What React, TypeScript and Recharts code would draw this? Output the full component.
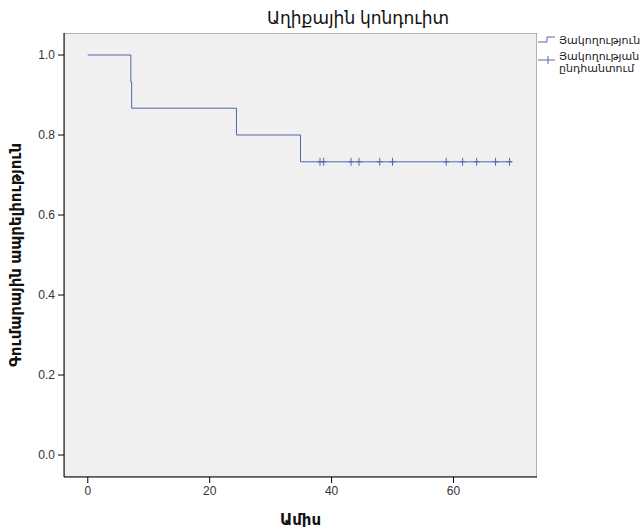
import React from 'react';
import {
  ComposedChart,
  Line,
  Scatter,
  XAxis,
  YAxis,
  ReferenceArea,
} from 'recharts';

// Kaplan-Meier step curve
const stepTimes = [0, 7.07, 7.2, 24.4, 34.9, 69.6];
const stepSurvival = [1.0, 0.933, 0.867, 0.8, 0.733, 0.733];
// censored observations
const censorTimes = [38.1, 38.7, 43.2, 44.5, 47.9, 50.0, 58.8, 61.5, 63.8, 66.9, 69.2];
const censorSurvival = 0.733;

const xTicks = [0, 20, 40, 60];
const yTicks = [0, 0.2, 0.4, 0.6, 0.8, 1.0];

const title = 'Աղիքային կոնդուիտ';
const xLabel = 'Ամիս';
const yLabel = 'Գումարային ապրելիություն';
const legendNames = ['Յակողություն', 'Յակողության', 'ընդհանտում'];

const LINE = '#5266b4';
const FONT = 'Arial, "Liberation Sans", "DejaVu Sans", sans-serif';

const curve = stepTimes.map((t, i) => ({ t, s: stepSurvival[i] }));
const censored = censorTimes.map((t) => ({ t, s: censorSurvival }));

const CensorMark = (props: any) => {
  const { cx, cy } = props;
  return (
    <g>
      <line x1={cx} y1={cy - 4} x2={cx} y2={cy + 4} stroke={LINE} strokeWidth={1} />
      <line x1={cx - 3} y1={cy} x2={cx + 3} y2={cy} stroke={LINE} strokeWidth={1} />
    </g>
  );
};

function LegendBox() {
  return (
    <svg width={103} height={50} style={{ position: 'absolute', left: 538, top: 29 }}>
      <polyline points="0,13 9,13 9,8 17,8" fill="none" stroke={LINE} strokeWidth={1} />
      <line x1={0} y1={31} x2={17} y2={31} stroke={LINE} strokeWidth={1} />
      <line x1={10} y1={27} x2={10} y2={35} stroke={LINE} strokeWidth={1} />
      <text x={21} y={15} fontSize={11} fill="#222" fontFamily={FONT}>
        {legendNames[0]}
      </text>
      <text x={21} y={31} fontSize={11} fill="#222" fontFamily={FONT}>
        {legendNames[1]}
      </text>
      <text x={21} y={43} fontSize={11} fill="#222" fontFamily={FONT}>
        {legendNames[2]}
      </text>
    </svg>
  );
}

export default function App() {
  return (
    <div style={{ position: 'absolute', left: 0, top: 0, width: 641, height: 527, background: '#fff' }}>
      <ComposedChart
        width={641}
        height={527}
        margin={{ top: 33, right: 104, bottom: 0, left: 0 }}
        style={{ fontFamily: FONT }}
      >
        <XAxis
          type="number"
          dataKey="t"
          domain={[-3.9, 73.7]}
          ticks={xTicks}
          allowDataOverflow
          height={50}
          tickSize={6}
          tickMargin={3}
          tick={{ fill: '#333', fontSize: 12 }}
          axisLine={{ stroke: '#000' }}
          tickLine={{ stroke: '#000' }}
          label={{ value: xLabel, position: 'insideBottom', offset: 2, fill: '#111', fontSize: 15, fontWeight: 'bold' }}
        />
        <YAxis
          type="number"
          dataKey="s"
          domain={[-0.055, 1.055]}
          ticks={yTicks}
          allowDataOverflow
          width={64}
          tickSize={6}
          tickMargin={3}
          tickFormatter={(v: number) => v.toFixed(1)}
          tick={{ fill: '#333', fontSize: 12 }}
          axisLine={{ stroke: '#000' }}
          tickLine={{ stroke: '#000' }}
          label={{ value: yLabel, angle: -90, position: 'insideLeft', offset: 16, fill: '#111', fontSize: 15, fontWeight: 'bold', style: { textAnchor: 'middle' } }}
        />
        <ReferenceArea
          x1={-3.9}
          x2={73.7}
          y1={-0.055}
          y2={1.055}
          fill="#f0f0f0"
          fillOpacity={1}
          stroke="#777"
          strokeWidth={1}
          ifOverflow="hidden"
        />
        <Line
          data={curve}
          dataKey="s"
          type="stepAfter"
          stroke={LINE}
          strokeWidth={1}
          dot={false}
          activeDot={false}
          isAnimationActive={false}
        />
        <Scatter data={censored} dataKey="s" shape={<CensorMark />} isAnimationActive={false} />
        <text x={358} y={24} textAnchor="middle" fontSize={17} fill="#111" fontFamily={FONT}>
          {title}
        </text>
      </ComposedChart>
      <LegendBox />
    </div>
  );
}
